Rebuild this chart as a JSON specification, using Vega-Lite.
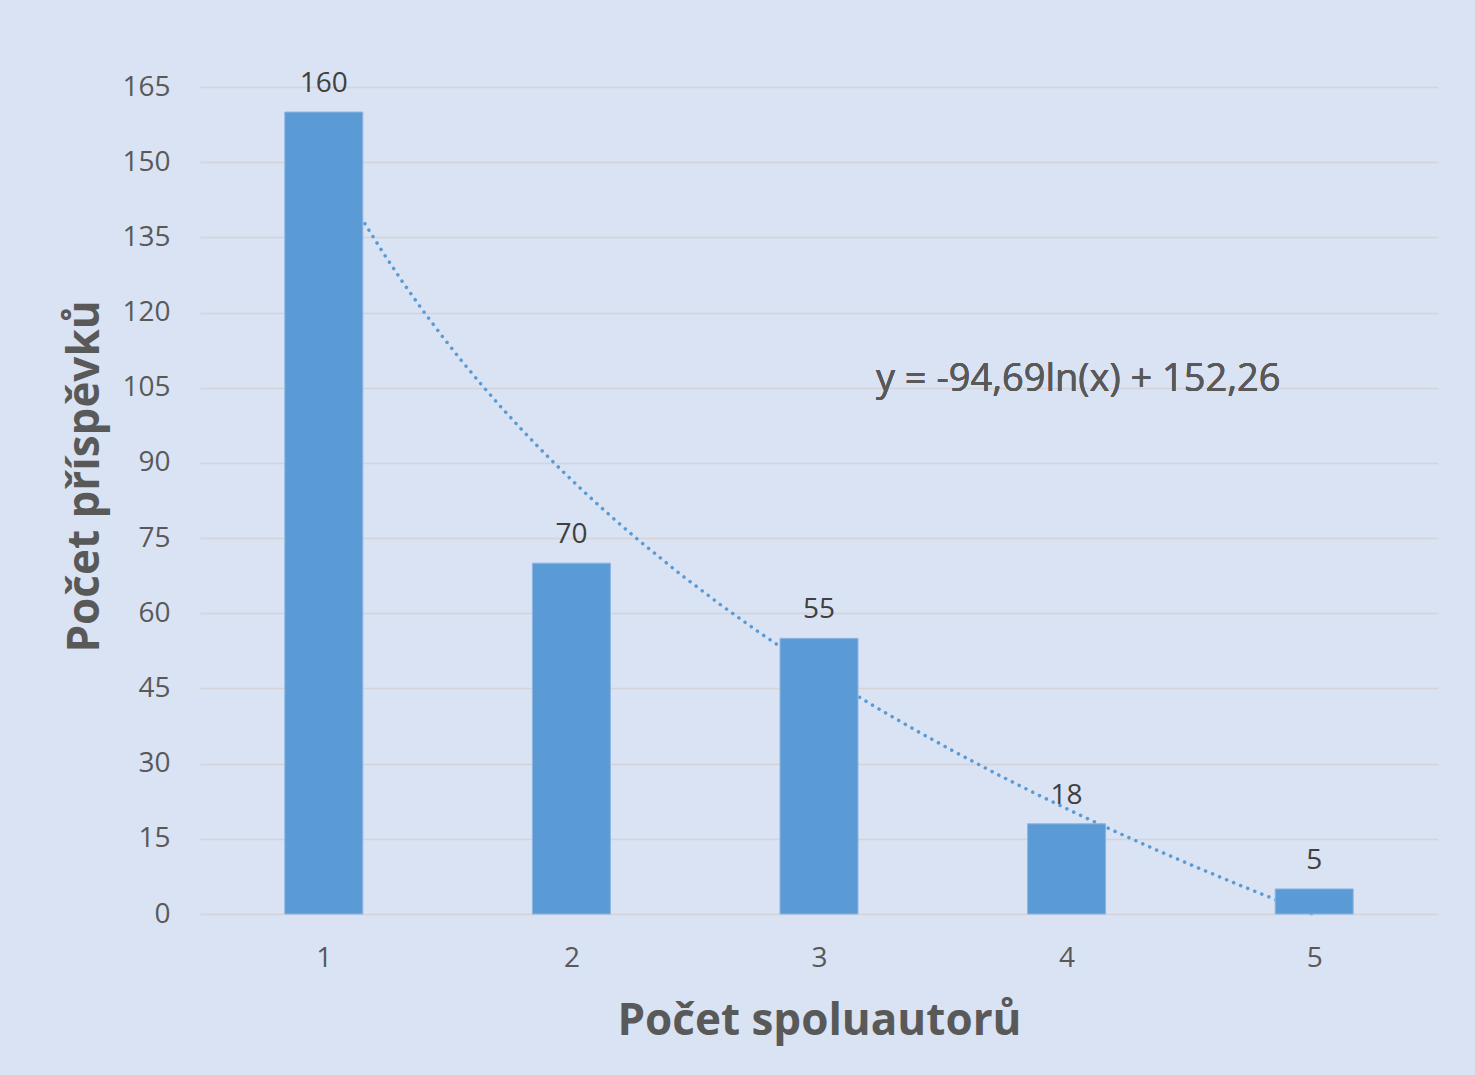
{
  "$schema": "https://vega.github.io/schema/vega-lite/v6.json",
  "width": 1238,
  "height": 827,
  "autosize": {"type": "none"},
  "padding": {"left": 200, "top": 87, "right": 37, "bottom": 161},
  "background": "#DAE3F3",
  "config": {
    "view": {"stroke": null},
    "font": "Open Sans"
  },
  "data": {
    "values": [
      {"spoluautoru": 1, "prispevku": 160},
      {"spoluautoru": 2, "prispevku": 70},
      {"spoluautoru": 3, "prispevku": 55},
      {"spoluautoru": 4, "prispevku": 18},
      {"spoluautoru": 5, "prispevku": 5}
    ]
  },
  "encoding": {
    "x": {
      "field": "spoluautoru",
      "type": "quantitative",
      "scale": {"domain": [0.5, 5.5], "nice": false, "zero": false, "padding": 0},
      "axis": {
        "title": "Počet spoluautorů",
        "values": [1, 2, 3, 4, 5],
        "grid": false,
        "domain": false,
        "ticks": false,
        "labelFontSize": 28,
        "labelColor": "#595959",
        "labelPadding": 30,
        "titleFontSize": 44,
        "titleFontWeight": "bold",
        "titleColor": "#595959",
        "titlePadding": 27
      }
    },
    "y": {
      "field": "prispevku",
      "type": "quantitative",
      "scale": {"domain": [0, 165], "nice": false},
      "axis": {
        "title": "Počet příspěvků",
        "values": [0, 15, 30, 45, 60, 75, 90, 105, 120, 135, 150, 165],
        "grid": true,
        "gridColor": "#D3D3D8",
        "gridWidth": 1.5,
        "domain": false,
        "ticks": false,
        "labelFontSize": 28,
        "labelColor": "#595959",
        "labelPadding": 30,
        "titleFontSize": 44,
        "titleFontWeight": "bold",
        "titleColor": "#595959",
        "titlePadding": 14,
        "titleY": 389
      }
    }
  },
  "layer": [
    {
      "transform": [
        {"regression": "prispevku", "on": "spoluautoru", "method": "log", "extent": [1, 5]}
      ],
      "mark": {"type": "line", "color": "#5B9BD5", "strokeWidth": 3.5, "strokeDash": [0.1, 7.5], "strokeCap": "round"},
      "encoding": {}
    },
    {
      "mark": {"type": "bar", "size": 78, "color": "#5B9BD5", "stroke": "#8DB4E2", "strokeWidth": 1}
    },
    {
      "mark": {"type": "text", "fontSize": 28, "color": "#404040", "baseline": "bottom", "dy": -14},
      "encoding": {"text": {"field": "prispevku", "type": "quantitative"}}
    },
    {
      "mark": {"type": "text", "text": "y = -94,69ln(x) + 152,26", "fontSize": 38, "color": "#595959", "align": "left", "baseline": "middle"},
      "encoding": {
        "x": {"datum": 3.23},
        "y": {"datum": 106.5}
      }
    }
  ]
}
